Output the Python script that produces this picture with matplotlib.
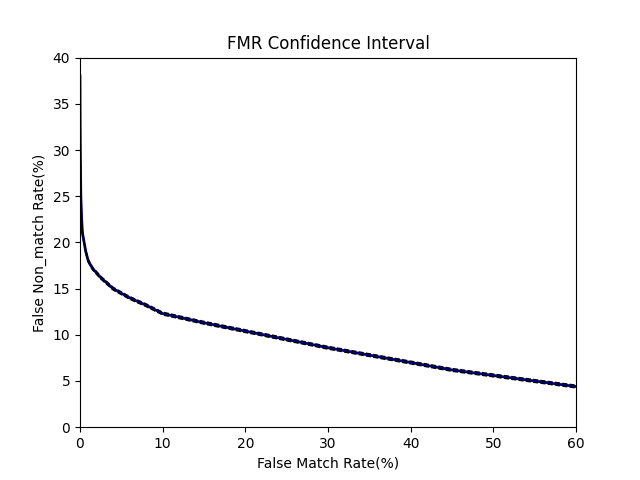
import matplotlib
matplotlib.use("Agg")
import matplotlib.pyplot as plt

fmr = [0, 0.02, 0.05, 0.1, 0.2, 0.3, 0.5, 0.7, 1.0, 1.5, 2.5, 4, 6, 8, 10, 15, 20, 25, 30, 35, 40, 45, 50, 55, 60]
fnmr = [38, 33, 29, 25, 22.5, 21, 20, 19, 18, 17.2, 16.2, 15.0, 14.0, 13.2, 12.3, 11.3, 10.4, 9.5, 8.6, 7.8, 7.0, 6.2, 5.6, 5.0, 4.4]
fnmr_low = [v - 0.15 for v in fnmr]
fnmr_high = [v + 0.15 for v in fnmr]

plt.figure(figsize=(6.4, 4.8), dpi=100)
plt.plot(fmr, fnmr, color='navy', linewidth=2)
plt.plot(fmr, fnmr_low, 'k--', linewidth=1)
plt.plot(fmr, fnmr_high, 'k--', linewidth=1)
plt.xlim(0, 60)
plt.ylim(0, 40)
plt.title('FMR Confidence Interval')
plt.xlabel('False Match Rate(%)')
plt.ylabel('False Non_match Rate(%)')
plt.savefig('out.png')
